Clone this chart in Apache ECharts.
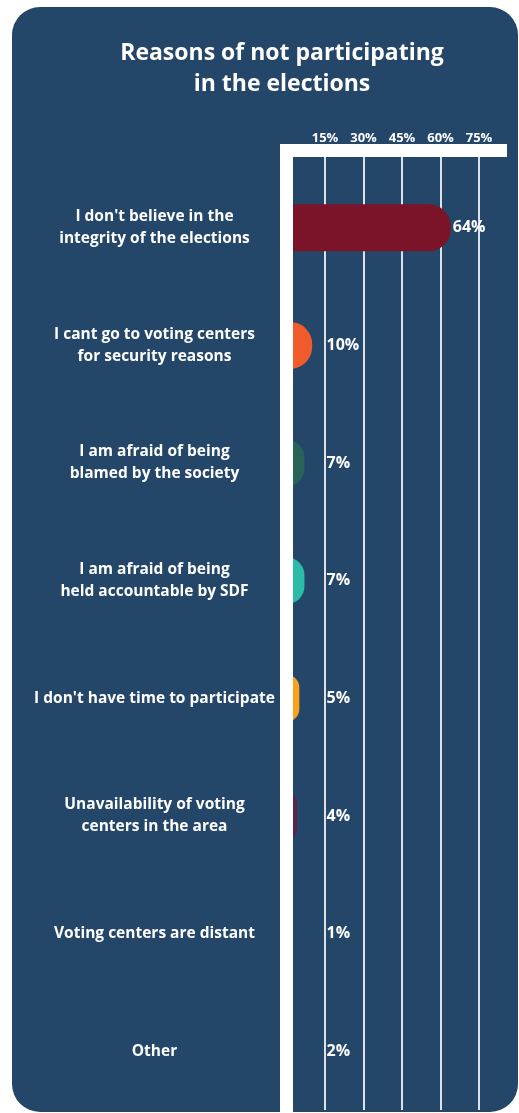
<!DOCTYPE html>
<html>
<head>
<meta charset="utf-8">
<script src="https://cdn.jsdelivr.net/npm/echarts@6/dist/echarts.min.js"></script>
<style>
  html, body { margin: 0; padding: 0; background: #ffffff; }
  #panel {
    position: absolute; left: 12px; top: 7px; width: 506px; height: 1105px;
    background: #244669; border-radius: 28px;
  }
  #chart { position: absolute; left: 0; top: 0; width: 519px; height: 1113px; }
</style>
</head>
<body>
<div id="panel"></div>
<div id="chart"></div>
<script>
// Survey answers: reasons for not taking part in the elections
const reasons = [
  "I don't believe in the\nintegrity of the elections",
  "I cant go to voting centers\nfor security reasons",
  "I am afraid of being\nblamed by the society",
  "I am afraid of being\nheld accountable by SDF",
  "I don't have time to participate",
  "Unavailability of voting\ncenters in the area",
  "Voting centers are distant",
  "Other"
];
const shares = [64, 10, 7, 7, 5, 4, 1, 2];
const ticks = [15, 30, 45, 60, 75];
const palette = ['#7b1428', '#f15a2b', '#276356', '#2cbba7', '#f8a21c', '#5b2450', '#c0305a', '#d6204a'];

const FONT = 'Open Sans';
const GRID_COLOR = '#dde2e8';

const chart = echarts.init(document.getElementById('chart'), null, { renderer: 'canvas' });

const barData = shares.map((v, i) => {
  const item = { value: v, itemStyle: { color: palette[i] } };
  // long bars carry their label at the end, short ones share a column
  if (v > ticks[0]) item.label = { position: 'right', offset: [0, 0], distance: 2 };
  return item;
});

chart.setOption({
  backgroundColor: 'transparent',
  animation: false,
  title: {
    text: 'Reasons of not participating\nin the elections',
    left: 277,
    top: 33,
    textAlign: 'center',
    textStyle: {
      color: '#ffffff', fontFamily: FONT, fontWeight: 'bold',
      fontSize: 23, lineHeight: 31
    }
  },
  grid: { left: 286.5, right: 40, top: 169, bottom: 3, containLabel: false },
  xAxis: {
    type: 'value',
    position: 'top',
    min: 0,
    max: ticks[ticks.length - 1],
    interval: ticks[1] - ticks[0],
    axisLine: { show: false },
    axisTick: { show: true, length: 12, lineStyle: { color: GRID_COLOR, width: 2 } },
    splitLine: { show: true, lineStyle: { color: GRID_COLOR, width: 2 } },
    axisLabel: {
      margin: 24,
      color: '#ffffff', fontFamily: FONT, fontWeight: 'bold', fontSize: 13,
      formatter: v => (ticks.indexOf(v) >= 0 ? v + '%' : '')
    }
  },
  yAxis: {
    type: 'category',
    inverse: true,
    data: reasons,
    axisLine: { show: false },
    axisTick: { show: false },
    axisLabel: {
      interval: 0,
      margin: 132,
      align: 'center',
      color: '#ffffff', fontFamily: FONT, fontWeight: 'bold', fontSize: 15.5, lineHeight: 22
    }
  },
  series: [{
    type: 'bar',
    data: barData,
    barWidth: 47,
    itemStyle: { borderRadius: [0, 22, 22, 0] },
    label: {
      show: true,
      position: 'insideLeft',
      offset: [35, 0],
      formatter: '{c}%',
      color: '#ffffff', fontFamily: FONT, fontWeight: 'bold', fontSize: 16
    }
  }],
  graphic: [
    // white frame: axis bar on the left and cap across the top
    { type: 'rect', z: 100, shape: { x: 280, y: 144, width: 13, height: 969 }, style: { fill: '#ffffff' } },
    { type: 'rect', z: 100, shape: { x: 280, y: 144, width: 227, height: 13 }, style: { fill: '#ffffff' } }
  ]
});
</script>
</body>
</html>
